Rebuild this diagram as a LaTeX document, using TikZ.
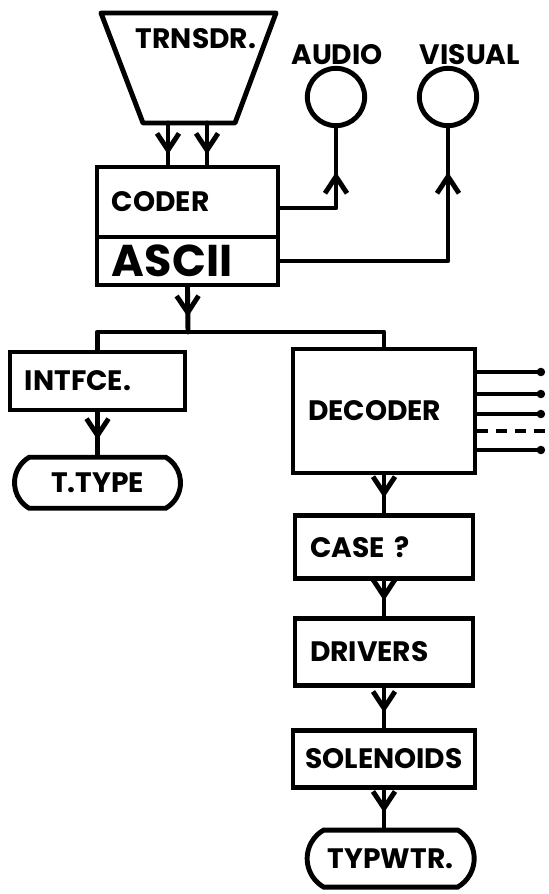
\documentclass[tikz,border=0pt]{standalone}
\usepackage{fontspec}
\setmainfont{Poppins}
\usetikzlibrary{positioning, arrows.meta, shapes.misc, decorations.markings}

\begin{document}
\begin{tikzpicture}[x=0.03cm, y=-0.03cm, line width=4.2pt, node distance=1.12cm,
    font=\fontsize{24}{28}\selectfont\bfseries]
    \tikzstyle{block} = [rectangle,draw=black,fill=white,inner xsep=0.45cm,inner ysep=0pt,align=left]
    \tikzstyle{term} = [rounded rectangle,rounded rectangle arc length=120,draw=black,fill=white,inner sep=0pt]
    \tikzstyle{lamp} = [circle,draw=black,minimum size=1.72cm,inner sep=0pt]
    \tikzstyle{wire} = [line cap=round,line join=round]
    \tikzstyle{gapped} = [dash pattern=on 0.33cm off 0.24cm]
    \tikzset{flow/.style={wire,postaction={decorate},
        decoration={markings,mark=at position #1 with {\arrow{Straight Barb[length=0.5cm,width=0.66cm]}}}},
        flow/.default=-0.45cm}
    \useasboundingbox (0,0) rectangle (548,894);

    % transducer
    \draw [wire] (101,13) -- (276,13) -- (235,123) -- (143,123) -- cycle;
    \node (trnsdr) at (196,39) {TRNSDR.};
    \coordinate (tin1) at (168,123);
    \coordinate (tin2) at (207,123);

    \node (coder) [block, text width=4.53cm, minimum height=2.1cm] at (187.5,202) {CODER};
    \node (ascii) [block, text width=4.53cm, minimum height=1.44cm, below=-4.2pt of coder,
        font=\fontsize{38}{44}\selectfont\bfseries] {ASCII};
    \draw [flow=-0.3cm] (tin1) -- (tin1 |- coder.north);
    \draw [flow=-0.3cm] (tin2) -- (tin2 |- coder.north);

    % indicators
    \node (audio) [lamp] at (336,97) {};
    \node (visual) [lamp] at (448,97) {};
    \node (audiolbl) at (337,55) {AUDIO};
    \node (visuallbl) at (470,55) {VISUAL};
    \draw [flow=-1.32cm] ([yshift=-0.18cm]coder.east) -| (audio.south);
    \draw [flow=-1.32cm] (ascii.east) -| (visual.south);

    \node (intfce) [block, text width=4.35cm, minimum height=1.74cm] at (97.5,381) {INTFCE.};
    \node (ttype) [term, minimum width=4.98cm, minimum height=1.53cm, below=1.27cm of intfce] {T.TYPE};
    \draw [flow] (intfce) -- (ttype);

    \node (decoder) [block, text width=4.56cm, minimum height=3.72cm] at (384,411) {DECODER};
    \node (case) [block, text width=4.44cm, minimum height=1.89cm, below=of decoder] {CASE ?};
    \node (drivers) [block, text width=4.44cm, minimum height=2.01cm, below=1.05cm of case] {DRIVERS};
    \node (solenoids) [block, inner xsep=0.15cm, text width=5.16cm, minimum height=1.71cm, align=center, below=1.2cm of drivers] {SOLENOIDS};
    \node (typwtr) [term, minimum width=5.01cm, minimum height=1.71cm, below=1.14cm of solenoids, xshift=0.2cm] {TYPWTR.};
    \draw [flow] (decoder) -- (case);
    \draw [flow] (case) -- (drivers);
    \draw [flow] (drivers) -- (solenoids);
    \draw [flow] (solenoids.south) -- (solenoids.south |- typwtr.north);

    % split
    \coordinate (split) at (188,332);
    \draw [flow] (ascii.south) -- (split);
    \draw [wire] (intfce.north) |- (split) -| (decoder.north);

    % decoder outputs
    \foreach \y [count=\i] in {372,394,414,431,450} {
        \coordinate (out\i) at (545,\y);
    }
    \foreach \i in {1,2,3,5}
        \draw [line width=3.4pt, -{Circle[length=7pt]}] (decoder.east |- out\i) -- (out\i);
    \draw [line width=3.4pt, gapped] (decoder.east |- out4) -- (out4);

\end{tikzpicture}
\end{document}
